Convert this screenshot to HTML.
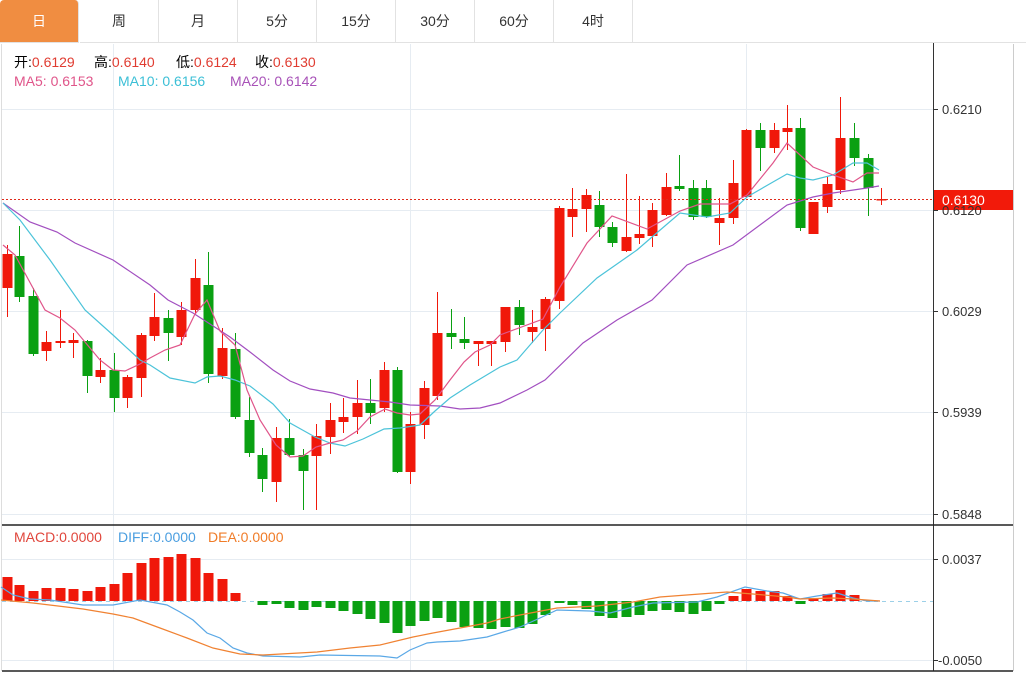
<!DOCTYPE html>
<html><head><meta charset="utf-8"><style>
body{margin:0;background:#fff;font-family:"Liberation Sans","Noto Sans CJK SC",sans-serif;}
#w{position:relative;width:1026px;height:673px;overflow:hidden;}
.tab{position:absolute;top:0;height:43px;width:79px;line-height:43px;text-align:center;font-size:14px;color:#333;border-right:1px solid #e2e2e2;border-bottom:1px solid #e2e2e2;box-sizing:border-box;}
.t{position:absolute;font-size:14px;white-space:nowrap;}
.r{color:#e03c31}
</style></head><body><div id="w">
<div class="tab" style="left:0;background:#f08d41;color:#fff;border-radius:4px 4px 0 0;">日</div>
<div class="tab" style="left:80px">周</div>
<div class="tab" style="left:159px">月</div>
<div class="tab" style="left:238px">5分</div>
<div class="tab" style="left:317px">15分</div>
<div class="tab" style="left:396px">30分</div>
<div class="tab" style="left:475px">60分</div>
<div class="tab" style="left:554px">4时</div>
<div class="tab" style="left:633px;width:393px;border-right:none"></div>
<svg id="s" width="1026" height="673" style="position:absolute;left:0;top:0" xmlns="http://www.w3.org/2000/svg">
<g stroke="#e6ecf2" stroke-width="1">
<line x1="2" y1="109.5" x2="933" y2="109.5"/><line x1="2" y1="210.5" x2="933" y2="210.5"/><line x1="2" y1="311.5" x2="933" y2="311.5"/><line x1="2" y1="412.5" x2="933" y2="412.5"/><line x1="2" y1="514.5" x2="933" y2="514.5"/>
<line x1="2" y1="559.5" x2="933" y2="559.5"/><line x1="2" y1="660.5" x2="933" y2="660.5"/>
<line x1="113.5" y1="44" x2="113.5" y2="671"/><line x1="410.5" y1="44" x2="410.5" y2="671"/><line x1="746.5" y1="44" x2="746.5" y2="671"/>
</g>
<line x1="1.5" y1="44" x2="1.5" y2="671" stroke="#ddd"/>
<line x1="1013.5" y1="44" x2="1013.5" y2="671" stroke="#ccc"/>
<line x1="933.5" y1="43" x2="933.5" y2="671" stroke="#333"/>
<line x1="2" y1="525" x2="1013" y2="525" stroke="#222" stroke-width="1.5"/>
<line x1="2" y1="671" x2="1013" y2="671" stroke="#222" stroke-width="1.5"/>
<g stroke="#333"><line x1="933" y1="109.5" x2="938" y2="109.5"/><line x1="933" y1="210.5" x2="938" y2="210.5"/><line x1="933" y1="311.5" x2="938" y2="311.5"/><line x1="933" y1="412.5" x2="938" y2="412.5"/><line x1="933" y1="514.5" x2="938" y2="514.5"/><line x1="933" y1="559.5" x2="938" y2="559.5"/><line x1="933" y1="660.5" x2="938" y2="660.5"/></g>
<line x1="2" y1="601.5" x2="933" y2="601.5" stroke="#9cd0e8" stroke-dasharray="4,4"/>
<g id="cd"></g><g id="mb"></g>
<polyline fill="none" stroke="#a24fc0" stroke-width="1.2" points="3,203 30,222 57,232 75,243 113,260 150,285 168,300 193,313 210,324 230,337 250,352 273,370 290,381 310,389 333,393 350,398 370,400 390,402 410,405 440,406 460,409 480,408 500,403 527,390 545,380 583,343 617,320 652,300 687,265 733,245 787,205 813,197 833,193 867,188 879,186"/>
<polyline fill="none" stroke="#4cc3d9" stroke-width="1.2" points="3,203 20,220 50,260 85,310 113,335 140,360 150,365 170,378 195,383 207,377 220,376 235,380 250,386 273,404 290,423 315,437 330,443 345,446 363,439 384,429 400,428 420,425 435,411 450,398 470,385 490,373 500,367 517,360 543,330 560,313 597,278 637,250 652,237 680,213 707,217 730,213 747,197 773,182 787,174 800,178 813,180 833,175 853,163 867,163 879,170"/>
<polyline fill="none" stroke="#e0558a" stroke-width="1.2" points="3,245 15,255 45,310 60,318 75,330 90,348 100,360 113,370 125,371 140,364 150,358 165,350 180,345 195,314 207,300 220,331 235,345 247,390 260,420 276,445 290,457 303,456 316,447 330,443 343,440 357,431 370,417 385,409 397,413 410,415 420,414 435,400 450,380 464,362 475,352 490,345 500,335 543,319 560,287 587,243 612,216 647,229 680,211 700,204 730,204 747,195 773,163 787,143 813,167 833,175 853,182 867,173 879,173"/>
<polyline fill="none" stroke="#5aa8e6" stroke-width="1.2" points="1,587 13,595 30,599 50,600 83,605 113,605 140,600 167,605 180,612 193,620 207,633 220,638 233,648 247,653 263,656 300,657 320,655 380,656 397,658 410,650 427,643 437,642 460,641 487,637 500,633 520,627 540,618 557,610 590,611 610,613 633,607 653,603 697,602 717,597 745,587 767,591 783,593 800,599 817,596 837,593 853,598 867,601 880,601"/>
<polyline fill="none" stroke="#f08232" stroke-width="1.2" points="1,600 33,603 83,609 113,614 133,618 160,628 187,638 213,648 240,654 263,655 317,652 350,648 380,645 413,637 433,633 460,628 487,623 500,619 520,615 557,608 597,606 633,602 660,597 700,594 727,592 753,594 787,597 800,599 833,598 853,599 880,601"/>
<line x1="2" y1="199.5" x2="933" y2="199.5" stroke="#e02a1a" stroke-dasharray="2,2"/>
<rect x="934" y="190" width="79" height="20" fill="#f21a0a"/>
<g font-family="Liberation Sans, sans-serif" font-size="13" fill="#333">
<text x="942" y="114">0.6210</text><text x="942" y="215">0.6120</text><text x="942" y="316">0.6029</text><text x="942" y="417">0.5939</text><text x="942" y="519">0.5848</text>
<text x="942" y="564">0.0037</text><text x="938" y="665">-0.0050</text>
<text x="942" y="205" fill="#fff" font-size="14">0.6130</text>
</g>
</svg>
<div class="t" style="left:14px;top:52px">开:<span class="r">0.6129</span></div>
<div class="t" style="left:94px;top:52px">高:<span class="r">0.6140</span></div>
<div class="t" style="left:176px;top:52px">低:<span class="r">0.6124</span></div>
<div class="t" style="left:255px;top:52px">收:<span class="r">0.6130</span></div>
<div class="t" style="left:14px;top:73px;color:#e0558a">MA5: 0.6153</div>
<div class="t" style="left:118px;top:73px;color:#3bbfd6">MA10: 0.6156</div>
<div class="t" style="left:230px;top:73px;color:#a852b8">MA20: 0.6142</div>
<div class="t" style="left:14px;top:529px;color:#e0463c">MACD:0.0000</div>
<div class="t" style="left:118px;top:529px;color:#4a9ee0">DIFF:0.0000</div>
<div class="t" style="left:208px;top:529px;color:#f07c28">DEA:0.0000</div>
</div>
<script>
var C=[[7,254,288,245,317,'r'],[19,256,297,226,302,'g'],[33,296,354,288,356,'g'],[46,342,351,331,361,'r'],[60,341,343,310,348,'r'],[73,340,343,333,358,'r'],[87,341,376,340,393,'g'],[100,370,377,358,383,'r'],[114,370,398,353,412,'g'],[127,377,398,375,408,'r'],[141,335,378,333,397,'r'],[154,317,336,293,341,'r'],[168,318,333,310,361,'g'],[181,310,337,302,345,'r'],[195,278,310,259,315,'r'],[208,285,374,252,383,'g'],[222,348,376,328,379,'r'],[235,349,417,333,419,'g'],[249,420,453,397,457,'g'],[262,455,479,448,492,'g'],[276,438,482,427,502,'r'],[289,438,455,419,457,'g'],[303,455,471,449,510,'g'],[316,436,456,424,510,'r'],[330,420,437,403,454,'r'],[343,417,422,398,433,'r'],[357,403,417,380,434,'r'],[370,403,413,379,424,'g'],[384,370,408,362,412,'r'],[397,370,472,367,473,'g'],[410,424,472,412,484,'r'],[424,388,425,381,439,'r'],[437,333,396,292,400,'r'],[451,333,337,309,349,'g'],[464,339,343,317,349,'g'],[478,341,344,341,366,'r'],[491,341,344,341,366,'r'],
[505,307,342,307,352,'r'],[519,307,325,300,335,'g'],[532,327,332,310,343,'r'],[545,299,329,297,351,'r'],[559,208,301,206,309,'r'],[572,209,217,188,237,'r'],[586,195,209,189,232,'r'],[599,205,227,191,237,'g'],[612,227,243,222,247,'g'],[626,237,251,174,252,'r'],[639,234,238,196,244,'r'],[652,210,236,203,247,'r'],[666,187,215,173,216,'r'],[679,186,189,155,191,'g'],[693,188,217,180,220,'g'],[706,188,217,180,218,'g'],[719,218,223,198,245,'r'],[733,183,218,160,224,'r'],[746,130,197,129,198,'r'],[760,130,148,123,171,'g'],[774,130,148,123,153,'r'],[787,128,132,105,150,'r'],[800,128,228,118,231,'g'],[813,202,234,202,234,'r'],[827,184,207,177,213,'r'],[840,138,190,97,194,'r'],[854,138,158,123,166,'g'],[868,158,188,154,216,'g'],[881,199,200,188,205,'r']];
var M=[577,585,591,588,588,589,591,587,584,573,563,558,557,554,558,573,579,593,601,605,604,608,610,607,608,611,614,619,623,633,626,621,618,622,627,628,629,627,628,624,615,603,605,609,616,618,617,615,611,610,612,614,611,604,596,589,591,591,596,604,598,594,590,595,600,601];
var ns="http://www.w3.org/2000/svg",cd=document.getElementById('cd'),mb=document.getElementById('mb');
function el(p,t,a){var e=document.createElementNS(ns,t);for(var k in a)e.setAttribute(k,a[k]);p.appendChild(e);}
C.forEach(function(c,i){var col=c[5]=='r'?'#f0180a':'#0aa012';
el(cd,'line',{x1:c[0]+.5,x2:c[0]+.5,y1:c[3],y2:c[4],stroke:col,'stroke-width':1});
el(cd,'rect',{x:c[0]-4.5,y:c[1],width:10,height:Math.max(1.5,c[2]-c[1]),fill:col});
var m=M[i],z=601;if(Math.abs(m-z)>0.5){var r=m<z?'#f0180a':'#0aa012';el(mb,'rect',{x:c[0]-4.5,y:Math.min(m,z),width:10,height:Math.abs(m-z),fill:r});}
});
</script>
</body></html>
